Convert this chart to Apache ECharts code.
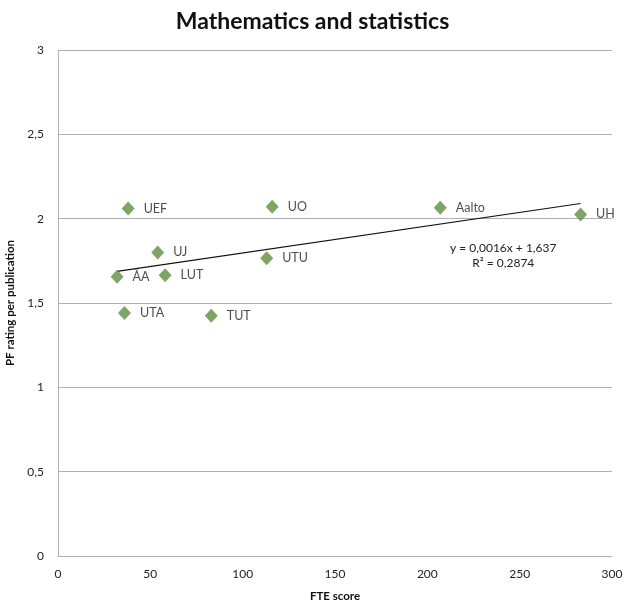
<!DOCTYPE html>
<html><head><meta charset="utf-8">
<script src="https://cdn.jsdelivr.net/npm/echarts@6/dist/echarts.min.js"></script>
<style>html,body{margin:0;padding:0;background:#fff}#c{width:625px;height:605px}</style>
</head><body><div id="c"></div>
<script>
const universities = ["UEF","UO","Aalto","UH","UJ","UTU","ÅA","LUT","UTA","TUT"];
const fteScores = [38, 116, 207, 283, 54, 113, 32, 58, 36, 83];
const pfRatings = [2.06, 2.07, 2.065, 2.025, 1.80, 1.765, 1.655, 1.665, 1.44, 1.425];
const trendX = [32, 283];
const trendY = [1.688, 2.090];
const yTicks = ["0","0,5","1","1,5","2","2,5","3"];
const equationText = ["y = 0,0016x + 1,637", "R² = 0,2874"];

const font = "Lato, 'Open Sans', sans-serif";
const chart = echarts.init(document.getElementById('c'), null, {renderer:'canvas'});
chart.setOption({
  animation:false,
  title:{text:"Mathematics and statistics", left:'center', top:5,
    textStyle:{fontFamily:font, fontSize:23, fontWeight:'bold', color:'#111'}},
  grid:{left:58, right:13, top:50, bottom:49, containLabel:false, outerBoundsMode:'none'},
  xAxis:{type:'value', min:0, max:300, interval:50,
    name:"FTE score", nameLocation:'middle', nameGap:34,
    nameTextStyle:{fontFamily:font, fontSize:11.5, fontWeight:'bold', color:'#111'},
    axisLine:{lineStyle:{color:'#b0b0b0'}}, axisTick:{show:false},
    axisLabel:{fontFamily:font, fontSize:12, color:'#222', margin:12},
    splitLine:{show:false}},
  yAxis:{type:'value', min:0, max:3, interval:0.5,
    name:"PF rating per publication", nameLocation:'middle', nameGap:35, nameRotate:90,
    nameTextStyle:{fontFamily:font, fontSize:11.5, fontWeight:'bold', color:'#111'},
    axisLine:{show:true, lineStyle:{color:'#b0b0b0'}}, axisTick:{show:false},
    axisLabel:{fontFamily:font, fontSize:12, color:'#222', margin:14,
      formatter:(v)=>yTicks[Math.round(v*2)]},
    splitLine:{lineStyle:{color:'#b0b0b0', width:1}}},
  graphic:[{type:'group', left:450, top:242, children:[
    {type:'text', style:{text:equationText[0], x:58, y:0, align:'center', fontFamily:font, fontSize:12, fill:'#222'}},
    {type:'text', style:{text:equationText[1], x:58, y:15, align:'center', fontFamily:font, fontSize:12, fill:'#222'}}
  ]}],
  series:[
    {type:'line', data:trendX.map((x,i)=>[x,trendY[i]]), symbol:'none',
      lineStyle:{color:'#111', width:1.2}, z:1},
    {type:'scatter', data:fteScores.map((x,i)=>({value:[x,pfRatings[i]], name:universities[i]})),
      symbol:'diamond', symbolSize:[13,14],
      itemStyle:{color:'#5e8f3f'}, z:2,
      label:{show:true, position:'right', distance:9, formatter:(p)=>p.name,
        fontFamily:font, fontSize:12.5, color:'#222'}}
  ]
});
</script></body></html>
